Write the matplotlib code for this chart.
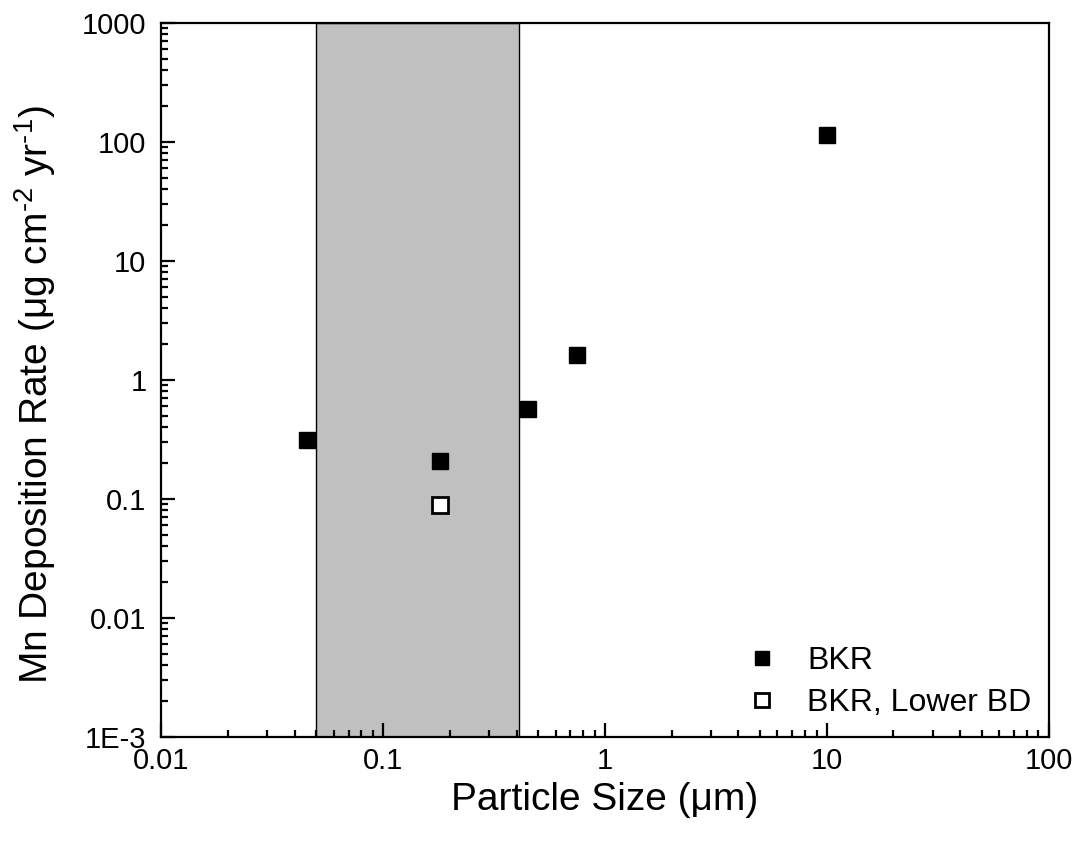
import matplotlib
matplotlib.use("Agg")
import matplotlib.pyplot as plt
from matplotlib.ticker import FixedLocator, FixedFormatter, LogLocator, NullFormatter

plt.rcParams["font.family"] = ["Liberation Sans", "DejaVu Sans"]
plt.rcParams["mathtext.fontset"] = "custom"
plt.rcParams["mathtext.rm"] = "Liberation Sans"
plt.rcParams["mathtext.it"] = "Liberation Sans:italic"

# data
bkr_size = [0.0455, 0.181, 0.452, 0.753, 10.0]
bkr_rate = [0.311, 0.208, 0.575, 1.61, 114.6]
lower_bd_size = [0.181]
lower_bd_rate = [0.0897]

# shaded size band
band = (0.05, 0.41)

y_ticks = [1e-3, 1e-2, 1e-1, 1, 10, 100, 1000]
y_labels = ["1E-3", "0.01", "0.1", "1", "10", "100", "1000"]
x_ticks = [0.01, 0.1, 1, 10, 100]
x_labels = ["0.01", "0.1", "1", "10", "100"]

fig = plt.figure(figsize=(10.81, 8.5), dpi=100)
ax = fig.add_axes([0.149, 0.133, 0.821, 0.840])

ax.axvspan(band[0], band[1], facecolor="#c0c0c0", edgecolor="black",
           linewidth=1.0, zorder=0)

ax.plot(bkr_size, bkr_rate, linestyle="none", marker="s", markersize=11,
        color="black", label="BKR", zorder=3)
ax.plot(lower_bd_size, lower_bd_rate, linestyle="none", marker="s",
        markersize=11, markerfacecolor="white", markeredgecolor="black",
        markeredgewidth=2, label="BKR, Lower BD", zorder=3)

ax.set_xscale("log")
ax.set_yscale("log")
ax.set_xlim(0.01, 100)
ax.set_ylim(1e-3, 1000)

ax.xaxis.set_major_locator(FixedLocator(x_ticks))
ax.xaxis.set_major_formatter(FixedFormatter(x_labels))
ax.yaxis.set_major_locator(FixedLocator(y_ticks))
ax.yaxis.set_major_formatter(FixedFormatter(y_labels))
ax.xaxis.set_minor_locator(LogLocator(base=10, subs=range(2, 10)))
ax.yaxis.set_minor_locator(LogLocator(base=10, subs=range(2, 10)))
ax.xaxis.set_minor_formatter(NullFormatter())
ax.yaxis.set_minor_formatter(NullFormatter())

ax.tick_params(which="major", direction="in", length=10, width=1.6,
               labelsize=21, top=False, right=False)
ax.tick_params(axis="x", which="major", pad=7)
ax.tick_params(axis="y", which="major", pad=10.5)
ax.tick_params(which="minor", direction="in", length=5, width=1.6,
               top=False, right=False)
for s in ax.spines.values():
    s.set_linewidth(1.6)

ax.set_xlabel("Particle Size (μm)", fontsize=28, labelpad=5)
ax.set_ylabel("Mn Deposition Rate (μg cm$^{\u2010 2}$ yr$^{\u2010 1}$)",
              fontsize=28, labelpad=17)
ax.yaxis.label.set_y(0.48)

ax.legend(loc="lower right", bbox_to_anchor=(0.995, 0.008), frameon=False,
          fontsize=23, handletextpad=0.41, labelspacing=0.39,
          markerscale=0.87, borderaxespad=0)

fig.savefig("out.png", dpi=100)
